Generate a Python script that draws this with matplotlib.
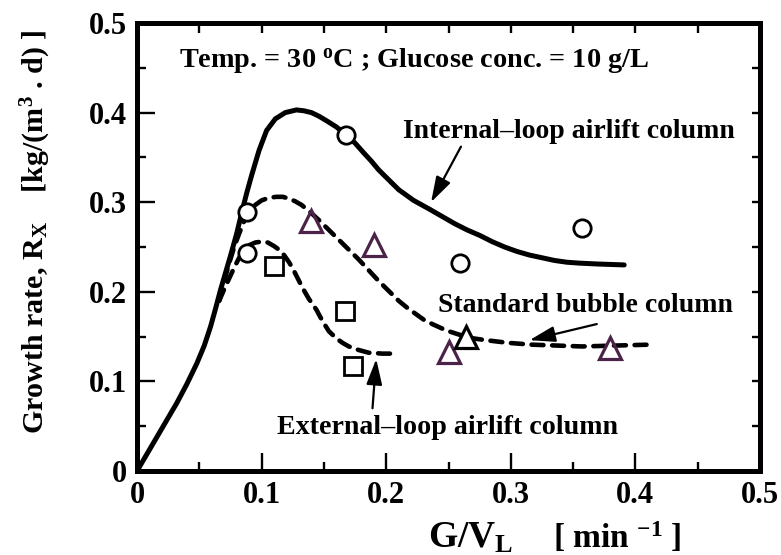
import matplotlib
matplotlib.use("Agg")
import matplotlib.pyplot as plt
from matplotlib.ticker import MultipleLocator

plt.rcParams['font.family'] = ['Liberation Serif', 'DejaVu Serif']
plt.rcParams['font.weight'] = 'bold'
plt.rcParams['mathtext.fontset'] = 'custom'
plt.rcParams['mathtext.rm'] = 'Liberation Serif:bold'
plt.rcParams['mathtext.it'] = 'Liberation Serif:bold'
plt.rcParams['mathtext.bf'] = 'Liberation Serif:bold'

# ---- data ----
circle_x = [0.088, 0.088, 0.168, 0.259, 0.357]
circle_y = [0.289, 0.243, 0.375, 0.232, 0.271]
square_x = [0.110, 0.167, 0.173]
square_y = [0.229, 0.179, 0.117]
tri_purple_x = [0.140, 0.190, 0.250, 0.380]
tri_purple_y = [0.279, 0.252, 0.133, 0.137]
tri_black_x = [0.264]
tri_black_y = [0.150]

internal_x = [0.000, 0.008, 0.016, 0.024, 0.032, 0.040, 0.048, 0.054, 0.059, 0.063, 0.067,
              0.071, 0.075, 0.080, 0.084, 0.088, 0.092, 0.098, 0.104, 0.111, 0.119, 0.128,
              0.134, 0.140, 0.146, 0.152, 0.160, 0.168, 0.175, 0.182, 0.188, 0.194, 0.202,
              0.210, 0.222, 0.235, 0.245, 0.255, 0.265, 0.275, 0.285, 0.295, 0.305, 0.315,
              0.325, 0.335, 0.345, 0.355, 0.370, 0.391]
internal_y = [0.000, 0.019, 0.038, 0.057, 0.076, 0.097, 0.120, 0.140, 0.161, 0.181, 0.202,
              0.221, 0.240, 0.265, 0.288, 0.310, 0.330, 0.358, 0.380, 0.393, 0.400, 0.403,
              0.402, 0.400, 0.396, 0.391, 0.384, 0.375, 0.366, 0.355, 0.346, 0.336, 0.325,
              0.314, 0.302, 0.292, 0.284, 0.276, 0.269, 0.263, 0.256, 0.250, 0.245, 0.241,
              0.238, 0.235, 0.233, 0.232, 0.231, 0.230]

standard_x = [0.066, 0.070, 0.074, 0.078, 0.082, 0.086, 0.090, 0.095, 0.100, 0.106, 0.112,
              0.117, 0.122, 0.127, 0.132, 0.139, 0.146, 0.154, 0.162, 0.170, 0.178, 0.186,
              0.194, 0.202, 0.210, 0.217, 0.224, 0.230, 0.237, 0.248, 0.259, 0.270, 0.280,
              0.298, 0.317, 0.337, 0.357, 0.384, 0.411]
standard_y = [0.190, 0.212, 0.232, 0.250, 0.265, 0.279, 0.290, 0.297, 0.302, 0.305, 0.306,
              0.306, 0.304, 0.301, 0.297, 0.289, 0.280, 0.269, 0.258, 0.247, 0.236, 0.224,
              0.212, 0.201, 0.190, 0.182, 0.175, 0.169, 0.164, 0.157, 0.152, 0.148, 0.146,
              0.143, 0.141, 0.140, 0.139, 0.140, 0.141]

external_x = [0.066, 0.070, 0.074, 0.078, 0.082, 0.086, 0.090, 0.095, 0.100, 0.105, 0.110,
              0.114, 0.118, 0.122, 0.125, 0.129, 0.133, 0.138, 0.144, 0.149, 0.154, 0.160,
              0.165, 0.170, 0.178, 0.186, 0.197, 0.208]
external_y = [0.190, 0.203, 0.215, 0.227, 0.238, 0.246, 0.252, 0.255, 0.256, 0.255, 0.251,
              0.247, 0.241, 0.233, 0.226, 0.215, 0.204, 0.192, 0.180, 0.167, 0.156, 0.148,
              0.143, 0.139, 0.135, 0.132, 0.131, 0.131]

x_ticks = [0, 0.1, 0.2, 0.3, 0.4, 0.5]
x_ticklabels = ['0', '0.1', '0.2', '0.3', '0.4', '0.5']
y_ticks = [0, 0.1, 0.2, 0.3, 0.4, 0.5]
y_ticklabels = ['0', '0.1', '0.2', '0.3', '0.4', '0.5']

purple = '#4b2349'

fig = plt.figure(figsize=(7.81, 5.55), dpi=100)
ax = fig.add_axes([137/781, (555-471)/555, (760-137)/781, (471-23)/555])

dash = (0, (2.6, 1.9))
ax.plot(standard_x, standard_y, color='black', lw=3.3, linestyle=dash,
        dash_capstyle='round', zorder=2)
ax.plot(external_x, external_y, color='black', lw=3.3, linestyle=dash,
        dash_capstyle='round', zorder=2)
ax.plot(internal_x, internal_y, color='black', lw=3.6, solid_capstyle='round',
        solid_joinstyle='round', zorder=3)

ax.plot(circle_x, circle_y, 'o', ms=12.5, mfc='white', mec='black', mew=2, zorder=5)
ax.plot(square_x, square_y, 's', ms=12.5, mfc='white', mec='black', mew=2, zorder=5)
ax.plot(tri_purple_x, tri_purple_y, '^', ms=15.5, mfc='none', mec=purple, mew=2.3, zorder=5)
ax.plot(tri_black_x, tri_black_y, '^', ms=15.5, mfc='white', mec='black', mew=2.3, zorder=5)

ax.set_xlim(0, 0.5)
ax.set_ylim(0, 0.5)
ax.set_xticks(x_ticks)
ax.set_xticklabels(x_ticklabels)
ax.set_yticks(y_ticks)
ax.set_yticklabels(y_ticklabels)
ax.xaxis.set_minor_locator(MultipleLocator(0.05))
ax.yaxis.set_minor_locator(MultipleLocator(0.05))
ax.tick_params(which='major', direction='in', length=13, width=1.7, labelsize=22, pad=7)
ax.tick_params(which='minor', direction='in', length=6.5, width=1.7)
for lab in ax.get_xticklabels() + ax.get_yticklabels():
    lab.set_fontweight('bold')
for s in ax.spines.values():
    s.set_linewidth(3.6)

secx = ax.secondary_xaxis('top')
secx.set_xticks(x_ticks)
secx.xaxis.set_minor_locator(MultipleLocator(0.05))
secx.tick_params(which='both', direction='in', length=7, width=1.7, labeltop=False)
secy = ax.secondary_yaxis('right')
secy.set_yticks(y_ticks)
secy.yaxis.set_minor_locator(MultipleLocator(0.05))
secy.tick_params(which='both', direction='in', length=6, width=1.7, labelright=False)
for s in list(secx.spines.values()) + list(secy.spines.values()):
    s.set_linewidth(3.6)

# texts
ax.text(0.034, 0.450, r'Temp. = 30 $^{\mathrm{o}}$C ; Glucose conc. = 10 g/L',
        fontsize=20.3, fontweight='bold', ha='left', va='baseline')
ax.text(0.347, 0.372, 'Internal\u2013loop airlift column', fontsize=20, fontweight='bold',
        ha='center', va='baseline')
ax.text(0.360, 0.177, 'Standard bubble column', fontsize=20, fontweight='bold',
        ha='center', va='baseline')
ax.text(0.249, 0.041, 'External\u2013loop airlift column', fontsize=20.2, fontweight='bold',
        ha='center', va='baseline')

arrow_style = dict(arrowstyle='-|>,head_length=0.65,head_width=0.2', mutation_scale=24,
                   lw=1.6, color='black', shrinkA=0, shrinkB=0)
ax.annotate('', xy=(0.236, 0.300), xytext=(0.260, 0.362), arrowprops=arrow_style)
ax.annotate('', xy=(0.315, 0.146), xytext=(0.369, 0.164), arrowprops=arrow_style)
ax.annotate('', xy=(0.192, 0.125), xytext=(0.189, 0.070), arrowprops=arrow_style)

fig.text(36/781, (555-232)/555, r'Growth rate, R$_{\mathrm{X}}$    [kg/(m$^{\mathrm{3}}$ . d) ]',
         rotation=90, fontsize=21.6, fontweight='bold', ha='center', va='center')
fig.text(428/781, (555-548)/555, r'G/V$_{\mathrm{L}}$', fontsize=27,
         fontweight='bold', ha='left', va='baseline')
fig.text(553/781, (555-548)/555, r'[ min $^{\mathrm{-1}}$ ]', fontsize=24,
         fontweight='bold', ha='left', va='baseline')

fig.savefig('out.png', dpi=100)
